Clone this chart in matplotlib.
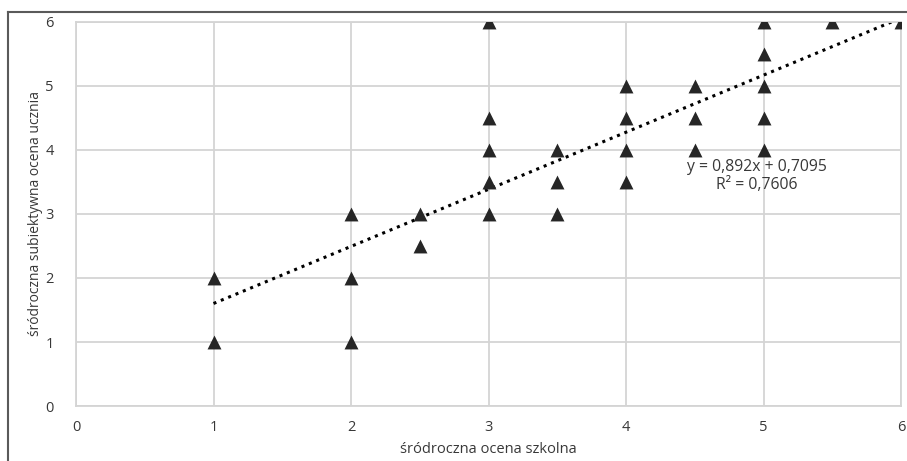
import numpy as np
import matplotlib.pyplot as plt
from matplotlib.lines import Line2D

# ocena szkolna vs. subiektywna ocena ucznia
szkolna = [1, 1, 2, 2, 2, 2.5, 2.5, 3, 3, 3, 3, 3, 3.5, 3.5, 3.5,
           4, 4, 4, 4, 4.5, 4.5, 4.5, 5, 5, 5, 5, 5, 5.5, 6]
subiektywna = [1, 2, 1, 2, 3, 2.5, 3, 3, 3.5, 4, 4.5, 6, 3, 3.5, 4,
               3.5, 4, 4.5, 5, 4, 4.5, 5, 4, 4.5, 5, 5.5, 6, 6, 6]

# linia trendu
a, b = 0.892, 0.7095
r2 = 0.7606

plt.rcParams['font.family'] = ['Open Sans', 'DejaVu Sans']

fig = plt.figure(figsize=(9.07, 4.61), dpi=100)
ax = fig.add_axes([0.0838, 0.1193, 0.9096, 0.833])

grid_col = '#d4d4d4'
txt_col = '#383838'
ax.set_axisbelow(True)
ax.grid(True, color=grid_col, linewidth=1.3)
for s in ax.spines.values():
    s.set_color(grid_col)
    s.set_linewidth(1.3)

xt = np.linspace(1, 6, 50)
ax.plot(xt, a * xt + b, color='black', linestyle=(0, (1, 1.6)), linewidth=2.2,
        zorder=2)
ax.scatter(szkolna, subiektywna, marker='^', s=100, color='#262626', zorder=3,
           linewidths=0)

ax.text(4.95, 3.73, f'y = {a:.3f}x + {b:.4f}'.replace('.', ','),
        ha='center', va='center', fontsize=11.3, color=txt_col)
ax.text(4.95, 3.46, f'R² = {r2:.4f}'.replace('.', ','),
        ha='center', va='center', fontsize=11.3, color=txt_col)

ax.set_xlim(0, 6)
ax.set_ylim(0, 6)
ax.set_xticks(range(7))
ax.set_yticks(range(7))
ax.tick_params(length=0, labelsize=10.5, colors=txt_col)
ax.tick_params(axis='x', pad=10)
ax.tick_params(axis='y', pad=16)

ax.set_xlabel('śródroczna ocena szkolna', fontsize=10.5, color=txt_col,
              labelpad=5)
ax.set_ylabel('śródroczna subiektywna ocena ucznia', fontsize=10,
              color=txt_col, labelpad=2)

# ramka wykresu
fig.add_artist(Line2D([0.0088, 1.0], [0.974, 0.974], color='#5a5a5a',
                      linewidth=1.5))
fig.add_artist(Line2D([0.0088, 0.0088], [0.0, 0.974], color='#5a5a5a',
                      linewidth=1.5))

fig.savefig('out.png', dpi=100, facecolor='white')
